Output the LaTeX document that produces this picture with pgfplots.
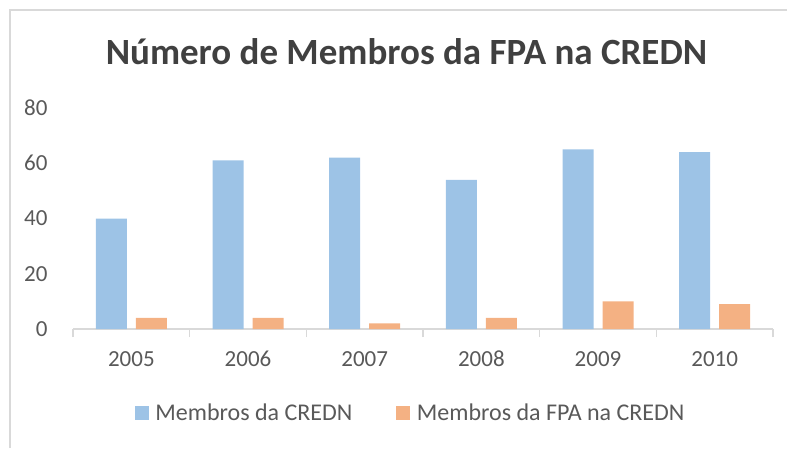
\documentclass[border=0pt]{standalone}
\usepackage{pgfplots}
\pgfplotsset{compat=1.18}
\usepackage{fontspec}
\setmainfont{Carlito}
\definecolor{cblue}{HTML}{9DC3E6}
\definecolor{corange}{HTML}{F4B183}
\definecolor{ctext}{HTML}{595959}
\definecolor{ctitle}{HTML}{404040}
\definecolor{cline}{HTML}{D9D9D9}
\pgfplotsset{sqleg/.style={legend image code/.code={\draw[##1, draw=none] (0pt,-6.8pt) rectangle (14pt,7.2pt);}}}
\begin{document}
\begin{tikzpicture}[x=1pt,y=1pt]
\useasboundingbox (0,0) rectangle (787,448);
\draw[cline, line width=1.5pt] (10,0) -- (10,438) -- (787,438);
\node[anchor=base, font=\fontsize{37}{42}\selectfont\bfseries, text=ctitle, inner sep=0pt] at (406.5,383) {Número de Membros da FPA na CREDN};
\begin{axis}[
  at={(73pt,119pt)}, anchor=south west, scale only axis,
  width=700pt, height=221pt,
  xmin=-0.5, xmax=5.5, ymin=0, ymax=80,
  axis x line*=bottom, axis y line*=left,
  x axis line style={-, cline, line width=1.5pt},
  y axis line style={draw=none},
  xtick={0,...,5}, xticklabels={2005,2006,2007,2008,2009,2010},
  ytick={0,20,...,80},
  major tick style={draw=none},
  minor xtick={-0.5,0.5,...,5.5},
  minor x tick style={cline, line width=1.5pt},
  tick align=outside, minor tick length=8pt,
  /pgf/number format/assume math mode=true,
  tick label style={font=\fontsize{23}{27}\selectfont, text=ctext, inner sep=0pt},
  y tick label style={anchor=east, xshift=-21pt},
  x tick label style={anchor=north, text height=15pt, text depth=0pt, yshift=-18pt},
  legend style={at={(0.481,-0.38)}, anchor=center, draw=none, fill=none,
    font=\fontsize{24}{28}\selectfont, text=ctext,
    nodes={inner sep=0pt},
    /tikz/every odd column/.append style={column sep=6.5pt},
    /tikz/every even column/.append style={column sep=44pt}},
  legend columns=2,
  legend cell align=left,
]
\addplot[ybar, bar width=31pt, bar shift=-20pt, fill=cblue, draw=none, sqleg] coordinates {(0,40)(1,61)(2,62)(3,54)(4,65)(5,64)};
\addlegendentry{Membros da CREDN}
\addplot[ybar, bar width=31pt, bar shift=20pt, fill=corange, draw=none, sqleg] coordinates {(0,4)(1,4)(2,2)(3,4)(4,10)(5,9)};
\addlegendentry{Membros da FPA na CREDN}
\end{axis}
\end{tikzpicture}
\end{document}
